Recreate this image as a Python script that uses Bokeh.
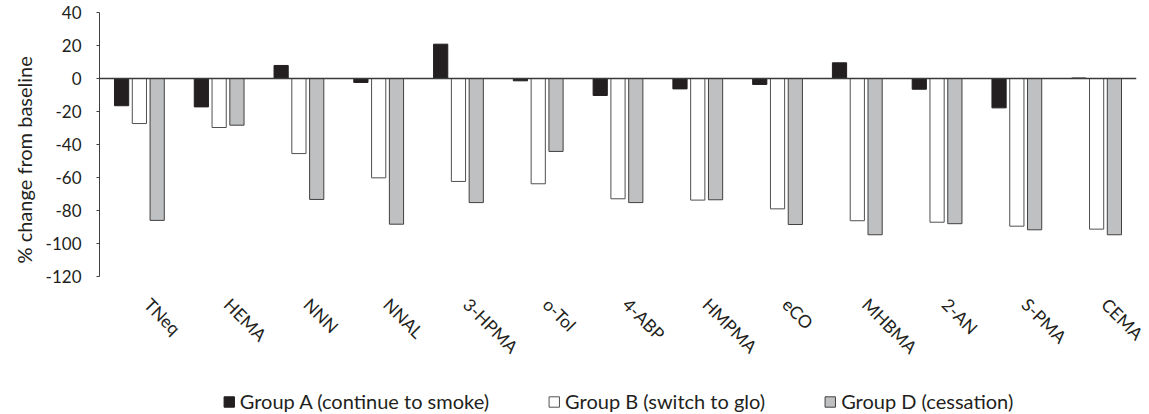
from math import pi
from bokeh.plotting import figure
from bokeh.layouts import column
from bokeh.models import Range1d, FixedTicker, Span, Legend, LegendItem, ColumnDataSource
from bokeh.embed import file_html
from bokeh.resources import INLINE

categories = ["TNeq", "HEMA", "NNN", "NNAL", "3-HPMA", "o-Tol", "4-ABP",
              "HMPMA", "eCO", "MHBMA", "2-AN", "S-PMA", "CEMA"]
group_a = [-16.5, -17.2, 7.9, -2.4, 20.8, -1.4, -10.3, -6.3, -3.6, 9.5, -6.5, -17.8, 0.3]
group_b = [-27.3, -29.7, -45.5, -60.2, -62.4, -63.8, -72.9, -73.7, -79.0, -86.2, -87.1, -89.5, -91.3]
group_d = [-86.0, -28.3, -73.3, -88.3, -75.2, -44.2, -75.2, -73.5, -88.5, -94.7, -88.0, -91.7, -94.7]
series_names = ["Group A (continue to smoke)", "Group B (switch to glo)", "Group D (cessation)"]
y_ticks = [40, 20, 0, -20, -40, -60, -80, -100, -120]
y_title = "% change from baseline"

FONT = "Lato"
TXT = "#231f20"
shift = 0.10           # category labels sit a little right of the group centre
offsets = [-0.223, 0.0, 0.223]
bar_w = 0.178
W = 1149

n = len(categories)
p = figure(width=W, height=388, output_backend="svg", toolbar_location=None,
           x_range=Range1d(-0.5 - shift, n - 0.5 - shift), y_range=Range1d(-120, 40),
           min_border_left=99, min_border_right=13, min_border_top=12, min_border_bottom=112)
p.outline_line_color = None
p.xgrid.visible = False
p.ygrid.visible = False

centers = [i - shift for i in range(n)]
styles = [
    dict(fill_color="#231f20", line_color="#231f20"),
    dict(fill_color="#ffffff", line_color="#505050"),
    dict(fill_color="#bfc0c2", line_color="#404040"),
]
renderers = []
for vals, off, st in zip([group_a, group_b, group_d], offsets, styles):
    src = ColumnDataSource(dict(x=[c + off for c in centers], top=vals, bottom=[0] * n))
    r = p.vbar(x="x", top="top", bottom="bottom", width=bar_w, source=src,
               line_width=1, **st)
    renderers.append(r)

p.add_layout(Span(location=0, dimension="width", line_color="#3a3a3a", line_width=1.6))

# y axis
ya = p.yaxis[0]
ya.ticker = FixedTicker(ticks=y_ticks)
ya.major_label_overrides = {t: str(t) for t in y_ticks}
ya.axis_line_color = "#404040"
ya.major_tick_line_color = "#404040"
ya.major_tick_in = 0
ya.major_tick_out = 3
ya.minor_tick_line_color = None
ya.major_label_text_font = FONT
ya.major_label_text_font_size = "17px"
ya.major_label_text_color = TXT
ya.major_label_standoff = 15
ya.axis_label = y_title + "\u00a0" * 6
ya.axis_label_text_font = FONT
ya.axis_label_text_font_size = "20px"
ya.axis_label_text_font_style = "normal"
ya.axis_label_text_color = TXT
ya.axis_label_standoff = 7

# x axis
xa = p.xaxis[0]
xa.ticker = FixedTicker(ticks=list(range(n)))
xa.major_label_overrides = {i: c for i, c in enumerate(categories)}
xa.major_label_orientation = -pi / 4
xa.axis_line_color = None
xa.major_tick_line_color = None
xa.minor_tick_line_color = None
xa.major_label_text_font = FONT
xa.major_label_text_font_size = "17.5px"
xa.major_label_text_color = TXT
xa.major_label_standoff = 19

# legend strip below the chart (its key glyphs sit outside the visible range)
lf = figure(width=W, height=26, output_backend="svg", toolbar_location=None,
            x_range=Range1d(0, 1), y_range=Range1d(0, 1),
            min_border_left=99, min_border_right=13, min_border_top=0, min_border_bottom=0)
lf.axis.visible = False
lf.xgrid.visible = False
lf.ygrid.visible = False
lf.outline_line_color = None
key_src = ColumnDataSource(dict(x=[-10], top=[-10]))
leg_r = [lf.vbar(x="x", top="top", width=0.1, source=key_src, line_width=1, **st) for st in styles]
legend = Legend(items=[LegendItem(label=nm, renderers=[r]) for nm, r in zip(series_names, leg_r)],
                orientation="horizontal", location="center")
legend.label_text_font = FONT
legend.label_text_font_size = "20px"
legend.label_text_color = TXT
legend.glyph_width = 13
legend.glyph_height = 13
legend.label_standoff = 5
legend.spacing = 58
legend.padding = 0
legend.margin = 0
legend.border_line_color = None
legend.background_fill_alpha = 0
lf.add_layout(legend, "center")

layout = column(p, lf, spacing=0)
open("out.html", "w").write(file_html(layout, INLINE))
